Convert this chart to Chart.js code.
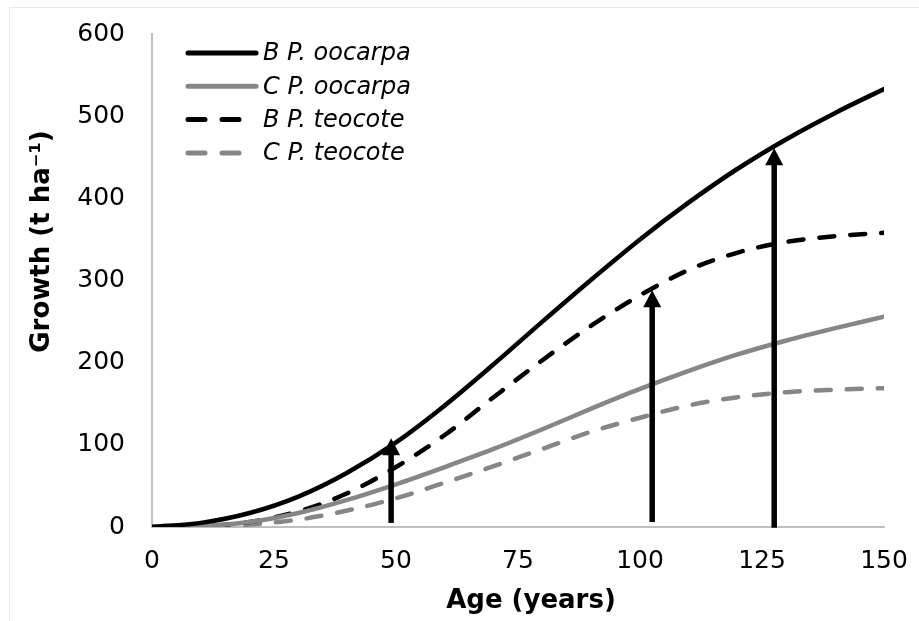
<!DOCTYPE html>
<html>
<head>
<meta charset="utf-8">
<script src="https://cdn.jsdelivr.net/npm/chart.js@4.4.1/dist/chart.umd.min.js"></script>
<style>
  html, body { margin: 0; padding: 0; background: #fff; }
  #wrap { width: 919px; height: 621px; position: relative; }
</style>
</head>
<body>
<div id="wrap"><canvas id="c" width="919" height="621"></canvas></div>
<script>
// ---- data ----
const ages = [0, 10, 20, 30, 40, 50, 60, 70, 80, 90, 100, 110, 120, 130, 140, 150];
const bOocarpa = [0, 5, 17, 37, 66, 103, 148, 198, 250, 301, 350, 395, 436, 472, 504, 533];
const cOocarpa = [0, 1, 6, 17, 33, 52, 73, 95, 119, 144, 168, 190, 210, 227, 242, 256];
const bTeocote = [0, 1, 6, 19, 41, 73, 112, 158, 203, 245, 282, 313, 334, 347, 354, 358];
const cTeocote = [0, 0.5, 3, 9, 20, 35, 54, 74, 95, 116, 133, 148, 158, 164, 167, 169];
const seriesNames = ['B P. oocarpa', 'C P. oocarpa', 'B P. teocote', 'C P. teocote'];
// arrows: age, start value, tip value
const arrowAges = [49, 102.5, 127.5];
const arrowBase = [5, 6, -1];
const arrowTip = [108, 288, 461];
const xTitle = '\u2002\u2002Age (years)';
const yTitle = '\u2003\u2003\u2003Growth (t ha\u207B\u00B9)';

const FONT = '"DejaVu Sans", Verdana, sans-serif';
const GREY = '#868686';

function pts(vals) { return ages.map((a, i) => ({ x: a, y: vals[i] })); }

const datasets = [
  { label: seriesNames[0], data: pts(bOocarpa), borderColor: '#000', borderWidth: 4.5, borderDash: [] },
  { label: seriesNames[1], data: pts(cOocarpa), borderColor: GREY, borderWidth: 4.5, borderDash: [] },
  { label: seriesNames[2], data: pts(bTeocote), borderColor: '#000', borderWidth: 4.5, borderDash: [15, 16] },
  { label: seriesNames[3], data: pts(cTeocote), borderColor: GREY, borderWidth: 4.5, borderDash: [15, 16] }
].map(d => Object.assign(d, {
  pointRadius: 0, fill: false, cubicInterpolationMode: 'monotone',
  borderCapStyle: 'round', borderJoinStyle: 'round'
}));

const framePlugin = {
  id: 'frame',
  beforeDraw(chart) {
    const ctx = chart.ctx;
    ctx.save();
    ctx.fillStyle = '#fff';
    ctx.fillRect(0, 0, chart.width, chart.height);
    ctx.strokeStyle = '#e8e8e8';
    ctx.lineWidth = 1;
    ctx.strokeRect(9.5, 7.5, chart.width, chart.height);
    ctx.restore();
  }
};

const arrowPlugin = {
  id: 'arrows',
  afterDatasetsDraw(chart) {
    const ctx = chart.ctx, xs = chart.scales.x, ys = chart.scales.y;
    ctx.save();
    ctx.fillStyle = '#000';
    ctx.strokeStyle = '#000';
    ctx.lineWidth = 5.5;
    const headL = 17, headW = 18;
    arrowAges.forEach((a, i) => {
      const x = xs.getPixelForValue(a);
      const y0 = ys.getPixelForValue(arrowBase[i]);
      const y1 = ys.getPixelForValue(arrowTip[i]);
      ctx.beginPath();
      ctx.moveTo(x, y0);
      ctx.lineTo(x, y1 + headL - 2);
      ctx.stroke();
      ctx.beginPath();
      ctx.moveTo(x, y1);
      ctx.lineTo(x - headW / 2, y1 + headL);
      ctx.lineTo(x + headW / 2, y1 + headL);
      ctx.closePath();
      ctx.fill();
    });
    ctx.restore();
  }
};

const legendPlugin = {
  id: 'innerLegend',
  afterDraw(chart) {
    const ctx = chart.ctx, area = chart.chartArea;
    ctx.save();
    ctx.font = 'italic 24px ' + FONT;
    ctx.textBaseline = 'middle';
    ctx.textAlign = 'left';
    chart.data.datasets.forEach((ds, i) => {
      const y = area.top + 19 + i * 33.3;
      const x0 = area.left + 36;
      ctx.strokeStyle = ds.borderColor;
      ctx.lineWidth = 5;
      ctx.lineCap = 'round';
      ctx.setLineDash(ds.borderDash.length ? [17, 17] : []);
      ctx.beginPath();
      ctx.moveTo(x0, y);
      ctx.lineTo(x0 + 68, y);
      ctx.stroke();
      ctx.setLineDash([]);
      ctx.fillStyle = '#000';
      ctx.fillText(ds.label, x0 + 75, y + 1);
    });
    ctx.restore();
  }
};

new Chart(document.getElementById('c'), {
  type: 'line',
  data: { datasets },
  plugins: [framePlugin, arrowPlugin, legendPlugin],
  options: {
    responsive: false,
    animation: false,
    events: [],
    layout: { padding: 0 },
    plugins: { legend: { display: false }, tooltip: { enabled: false } },
    scales: {
      x: {
        type: 'linear', min: 0, max: 150,
        grid: { display: false, drawTicks: false },
        border: { display: true, color: '#bfbfbf', width: 2 },
        ticks: { stepSize: 25, color: '#000', font: { family: FONT, size: 25 }, padding: 19, maxRotation: 0 },
        title: { display: true, text: xTitle, color: '#000', font: { family: FONT, size: 26, weight: 'bold' }, padding: { top: 0, bottom: 4 } },
        afterFit(s) { s.height = 94; s.paddingRight = 35; s.paddingLeft = 0; }
      },
      y: {
        min: 0, max: 600,
        grid: { display: false, drawTicks: false },
        border: { display: true, color: '#bfbfbf', width: 2 },
        ticks: { stepSize: 100, color: '#000', font: { family: FONT, size: 25 }, padding: 27 },
        title: { display: true, text: yTitle, color: '#000', font: { family: FONT, size: 26, weight: 'bold' }, padding: { top: 27, bottom: 27 } },
        afterFit(s) { s.width = 152; s.paddingTop = 34; s.paddingBottom = 0; }
      }
    }
  }
});
</script>
</body>
</html>
